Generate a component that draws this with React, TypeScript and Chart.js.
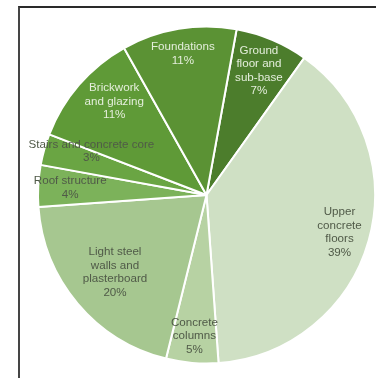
import React, { useEffect, useRef } from "react";
import { Chart, registerables } from "chart.js";

Chart.register(...registerables);

const categories: string[][] = [
  ["Ground", "floor and", "sub-base"],
  ["Upper", "concrete", "floors"],
  ["Concrete", "columns"],
  ["Light steel", "walls and", "plasterboard"],
  ["Roof structure"],
  ["Stairs and concrete core"],
  ["Brickwork", "and glazing"],
  ["Foundations"],
];
const shares: number[] = [7, 39, 5, 20, 4, 3, 11, 11];

const sliceColors = [
  "#4c7d2c",
  "#cfe0c4",
  "#b7d2a3",
  "#a6c790",
  "#7cb25a",
  "#6aa543",
  "#5f9a37",
  "#5b9234",
];
const labelColors = [
  "#e4eedb",
  "#505a48",
  "#505a48",
  "#505a48",
  "#505a48",
  "#505a48",
  "#e4eedb",
  "#e4eedb",
];
const labelRadius = [0.8, 0.82, 0.84, 0.71, 0.81, 0.73, 0.78, 0.85];
const labelAngleShift = [0, 0, 0, 0, 0, 5, 4.5, 0];

const labelPlugin = {
  id: "sliceLabels",
  afterDatasetsDraw(chart: any) {
    const ctx = chart.ctx;
    const meta = chart.getDatasetMeta(0);
    ctx.save();
    ctx.font = "11.6px 'Liberation Sans', Arial, sans-serif";
    ctx.textAlign = "center";
    ctx.textBaseline = "middle";
    const lh = 13.5;
    meta.data.forEach((arc: any, i: number) => {
      const { x, y, startAngle, endAngle, outerRadius } = arc.getProps(
        ["x", "y", "startAngle", "endAngle", "outerRadius"],
        true
      );
      const mid = (startAngle + endAngle) / 2 + (labelAngleShift[i] * Math.PI) / 180;
      const r = outerRadius * labelRadius[i];
      const cx = x + Math.cos(mid) * r;
      const cy = y + Math.sin(mid) * r;
      const lines = [...categories[i], shares[i] + "%"];
      const top = cy - ((lines.length - 1) * lh) / 2;
      ctx.fillStyle = labelColors[i];
      lines.forEach((ln, k) => ctx.fillText(ln, cx, top + k * lh));
    });
    ctx.restore();
  },
};

export default function App() {
  const ref = useRef<HTMLCanvasElement>(null);
  useEffect(() => {
    if (!ref.current) return;
    const chart = new Chart(ref.current, {
      type: "pie",
      data: {
        labels: categories.map((c) => c.join(" ")),
        datasets: [
          {
            data: shares,
            backgroundColor: sliceColors,
            borderColor: "#ffffff",
            borderWidth: 2,
          },
        ],
      },
      options: {
        animation: false,
        responsive: false,
        rotation: 10.3,
        layout: { padding: { left: 37, right: 0, top: 24, bottom: 12 } },
        plugins: {
          legend: { display: false },
          tooltip: { enabled: false },
        },
      },
      plugins: [labelPlugin],
    });
    return () => chart.destroy();
  }, []);
  return (
    <div style={{ position: "absolute", left: 0, top: 0, width: 376, height: 378, background: "#fff", overflow: "hidden" }}>
      <canvas ref={ref} width={376} height={378} style={{ position: "absolute", left: 0, top: 0 }} />
      <div
        style={{
          position: "absolute",
          left: 18,
          top: 6,
          width: 400,
          height: 400,
          borderLeft: "2px solid #454545",
          borderTop: "2px solid #2a2a2a",
          pointerEvents: "none",
        }}
      />
    </div>
  );
}
